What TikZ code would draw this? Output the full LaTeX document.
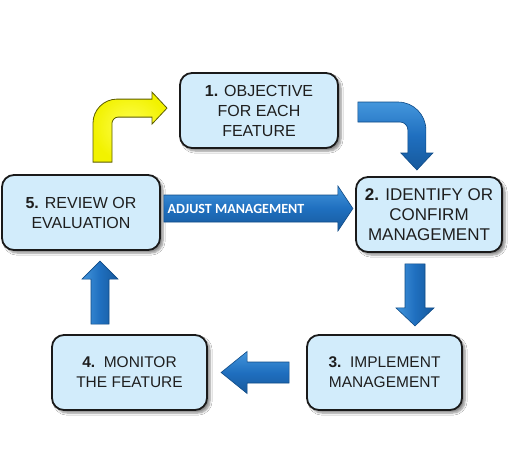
\documentclass[tikz,border=0pt]{standalone}
\usepackage{fontspec}
\setmainfont{Liberation Sans}
\newfontfamily\calibfont{Carlito}
\usetikzlibrary{calc,shadows.blur}
\definecolor{boxfill}{HTML}{D2ECFB}
\definecolor{boxline}{HTML}{1A1A1A}
\definecolor{boxtext}{HTML}{1E1E1E}
\definecolor{arrlight}{HTML}{4496DC}
\definecolor{arrmid}{HTML}{1F6FBF}
\definecolor{arrdark}{HTML}{17599C}
\definecolor{arredge}{HTML}{0E4A86}
\definecolor{yelfill}{HTML}{F2F200}
\definecolor{yellight}{HTML}{FFFF55}
\definecolor{yeledge}{HTML}{5C5C00}
\tikzset{
  stepbox/.style={draw=boxline, line width=1.8pt, fill=boxfill, rounded corners=12pt,
    minimum height=75pt, inner sep=0pt, align=center, text=boxtext,
    blur shadow={shadow xshift=3pt, shadow yshift=-3pt, shadow opacity=45, shadow blur steps=6}},
  hfont/.style={font=\fontsize{#1}{20}\selectfont},
  harrow/.style={draw=arredge, line width=0.6pt, top color=arrlight, bottom color=arrdark, middle color=arrmid},
  varrow/.style={draw=arredge, line width=0.6pt, left color=arrlight, right color=arrdark, middle color=arrmid},
  yarrow/.style={draw=yeledge, line width=0.8pt, inner color=yellight, outer color=yelfill},
}
\begin{document}
\begin{tikzpicture}[x=1pt,y=-1pt]
\useasboundingbox (0,0) rectangle (525,460);
\fill[white] (0,0) rectangle (525,460);

\node[stepbox, minimum width=158pt, hfont=16] (b1) at (259,110.5) {\textbf{1.} OBJECTIVE\\FOR EACH\\FEATURE};
\node[stepbox, minimum width=146pt, hfont=17] (b2) at (429,214.5) {\textbf{2.} IDENTIFY OR\\CONFIRM\\MANAGEMENT};
\node[stepbox, minimum width=155pt, hfont=15.5] (b3) at (384.5,372.5) {\textbf{3.}\ \ IMPLEMENT\\MANAGEMENT};
\node[stepbox, minimum width=155pt, hfont=15.5] (b4) at (129.5,372.5) {\textbf{4.}\ \ MONITOR\\THE FEATURE};
\node[stepbox, minimum width=158pt, hfont=16] (b5) at (81,212.5) {\textbf{5.} REVIEW OR\\EVALUATION};

% anchors for the block arrows
\coordinate (a12) at ($(b1.east)+(19,1.5)$);
\coordinate (a23) at ($(b2.south)+(-14,11)$);
\coordinate (a34) at ($(b3.west)+(-17,0)$);
\coordinate (a45) at ($(b4.north)+(-29.5,-10)$);
\coordinate (a51) at ($(b5.north)+(21.5,-12)$);
\coordinate (a52) at ($(b5.east)+(3,-4)$);

% 5 -> 1 (yellow, curved)
\begin{scope}[shift={(a51)}]
\path[yarrow] (-9.5,0) -- (-9.5,-39) .. controls (-9.5,-52.2) and (1.3,-63) .. (14.5,-63)
  -- (49.5,-63) -- (49.5,-70) -- (64.5,-54) -- (49.5,-38) -- (49.5,-45) -- (15.5,-45)
  .. controls (12.2,-45) and (9.5,-41.7) .. (9.5,-39) -- (9.5,0) -- cycle;
\end{scope}

% 1 -> 2 (blue, curved)
\begin{scope}[shift={(a12)}]
\path[harrow] (0,-10) -- (40,-10) .. controls (55.5,-10) and (68,2.5) .. (68,18)
  -- (68,41) -- (75,41) -- (59,58) -- (43,41) -- (50,41) -- (50,18)
  .. controls (50,13.6) and (46.4,10) .. (42,10) -- (0,10) -- cycle;
\end{scope}

% 2 -> 3
\begin{scope}[shift={(a23)}]
\path[varrow] (-10,0) -- (-10,44) -- (-19,44) -- (0,62) -- (19,44) -- (10,44) -- (10,0) -- cycle;
\end{scope}

% 3 -> 4
\begin{scope}[shift={(a34)}]
\path[harrow] (0,-10.5) -- (-42,-10.5) -- (-42,-21) -- (-68,0) -- (-42,21) -- (-42,10.5) -- (0,10.5) -- cycle;
\end{scope}

% 4 -> 5
\begin{scope}[shift={(a45)}]
\path[varrow] (-9,0) -- (-9,-45) -- (-18,-45) -- (0,-63) -- (18,-45) -- (9,-45) -- (9,0) -- cycle;
\end{scope}

% 5 -> 2 (adjust management)
\begin{scope}[shift={(a52)}]
\path[harrow] (0,-13.5) -- (174,-13.5) -- (174,-22.5) -- (189,0) -- (174,22.5) -- (174,13.5) -- (0,13.5) -- cycle;
\node[text=white, font=\calibfont\bfseries\fontsize{14}{15}\selectfont, inner sep=0pt] (adj) at (72,0) {ADJUST MANAGEMENT};
\end{scope}
\end{tikzpicture}
\end{document}
